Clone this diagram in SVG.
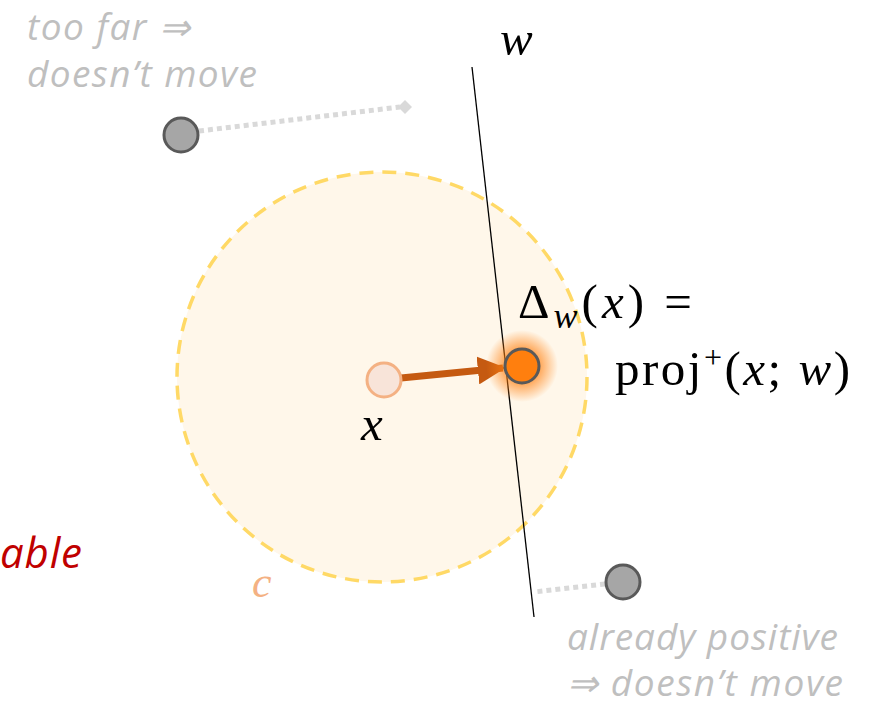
<svg xmlns="http://www.w3.org/2000/svg" width="874" height="707" viewBox="0 0 874 707">
<style>
.note{font-family:"Open Sans","Liberation Sans",sans-serif;font-style:italic;font-size:37px;fill:#BFBFBF}
.math{font-family:"Liberation Serif","DejaVu Serif",serif;font-size:49px;fill:#000}
.gray{fill:#A6A6A6;stroke:#595959;stroke-width:3}
.dot{stroke:#D9D9D9;stroke-width:5;stroke-dasharray:5 4;fill:none}
</style>
<defs>
<radialGradient id="glow">
<stop offset="0.3" stop-color="#FF7F0E" stop-opacity="0.9"/>
<stop offset="1" stop-color="#FF7F0E" stop-opacity="0"/>
</radialGradient>
<marker id="ah" viewBox="0 0 10 10" refX="9" refY="5" markerWidth="4" markerHeight="4" orient="auto" markerUnits="strokeWidth">
<path d="M0,0 L10,5 L0,10 z" fill="#C55A11"/>
</marker>
</defs>
<rect width="874" height="707" fill="#fff"/>
<g id="region">
<circle cx="382" cy="377" r="205" fill="#FFF7EA" stroke="#FFD966" stroke-width="3.5" stroke-dasharray="14 9"/>
</g>
<g id="connectors">
<line x1="472" y1="67" x2="534" y2="617" stroke="#000" stroke-width="1.3"/>
<line class="dot" x1="199" y1="131" x2="400" y2="107"/>
<path d="M405,100 L412,107 L405,114 L398,107 z" fill="#D9D9D9"/>
<line class="dot" x1="605" y1="584" x2="534" y2="592"/>
<line x1="401" y1="378" x2="503" y2="368" stroke="#C55A11" stroke-width="7" marker-end="url(#ah)"/>
</g>
<g id="far">
<circle class="gray" cx="181" cy="135" r="17"/>
</g>
<g id="positive">
<circle class="gray" cx="623" cy="582" r="17"/>
</g>
<g id="xnode">
<circle cx="384" cy="380" r="17" fill="#F8E4D9" stroke="#F4B183" stroke-width="3"/>
</g>
<g id="proj">
<circle cx="522" cy="366" r="36" fill="url(#glow)"/>
<circle cx="522" cy="366" r="17" fill="#FF7F0E" stroke="#595959" stroke-width="3"/>
</g>
<text class="note" x="27" y="40" textLength="163">too far ⇒</text>
<text class="note" x="27" y="87" textLength="230">doesn’t move</text>
<text class="note" x="567" y="650" textLength="271">already positive</text>
<text class="note" x="567" y="696" textLength="276">⇒ doesn’t move</text>
<text x="0" y="568" font-family="Open Sans,Liberation Sans,sans-serif" font-style="italic" font-size="42" fill="#C00000" textLength="82">able</text>
<text x="252" y="597" font-family="Liberation Serif,serif" font-style="italic" font-size="44" fill="#F4B183">c</text>
<text x="500" y="55" class="math" font-style="italic">w</text>
<text x="361" y="440" class="math" font-style="italic">x</text>
<text x="518" y="318" class="math" textLength="174">Δ<tspan font-style="italic" font-size="36" dy="10">w</tspan><tspan dy="-10">(</tspan><tspan font-style="italic">x</tspan>) =</text>
<text x="615" y="385" class="math" textLength="235">proj<tspan font-size="32" dy="-17">+</tspan><tspan dy="17">(</tspan><tspan font-style="italic">x</tspan>; <tspan font-style="italic">w</tspan>)</text>
</svg>
